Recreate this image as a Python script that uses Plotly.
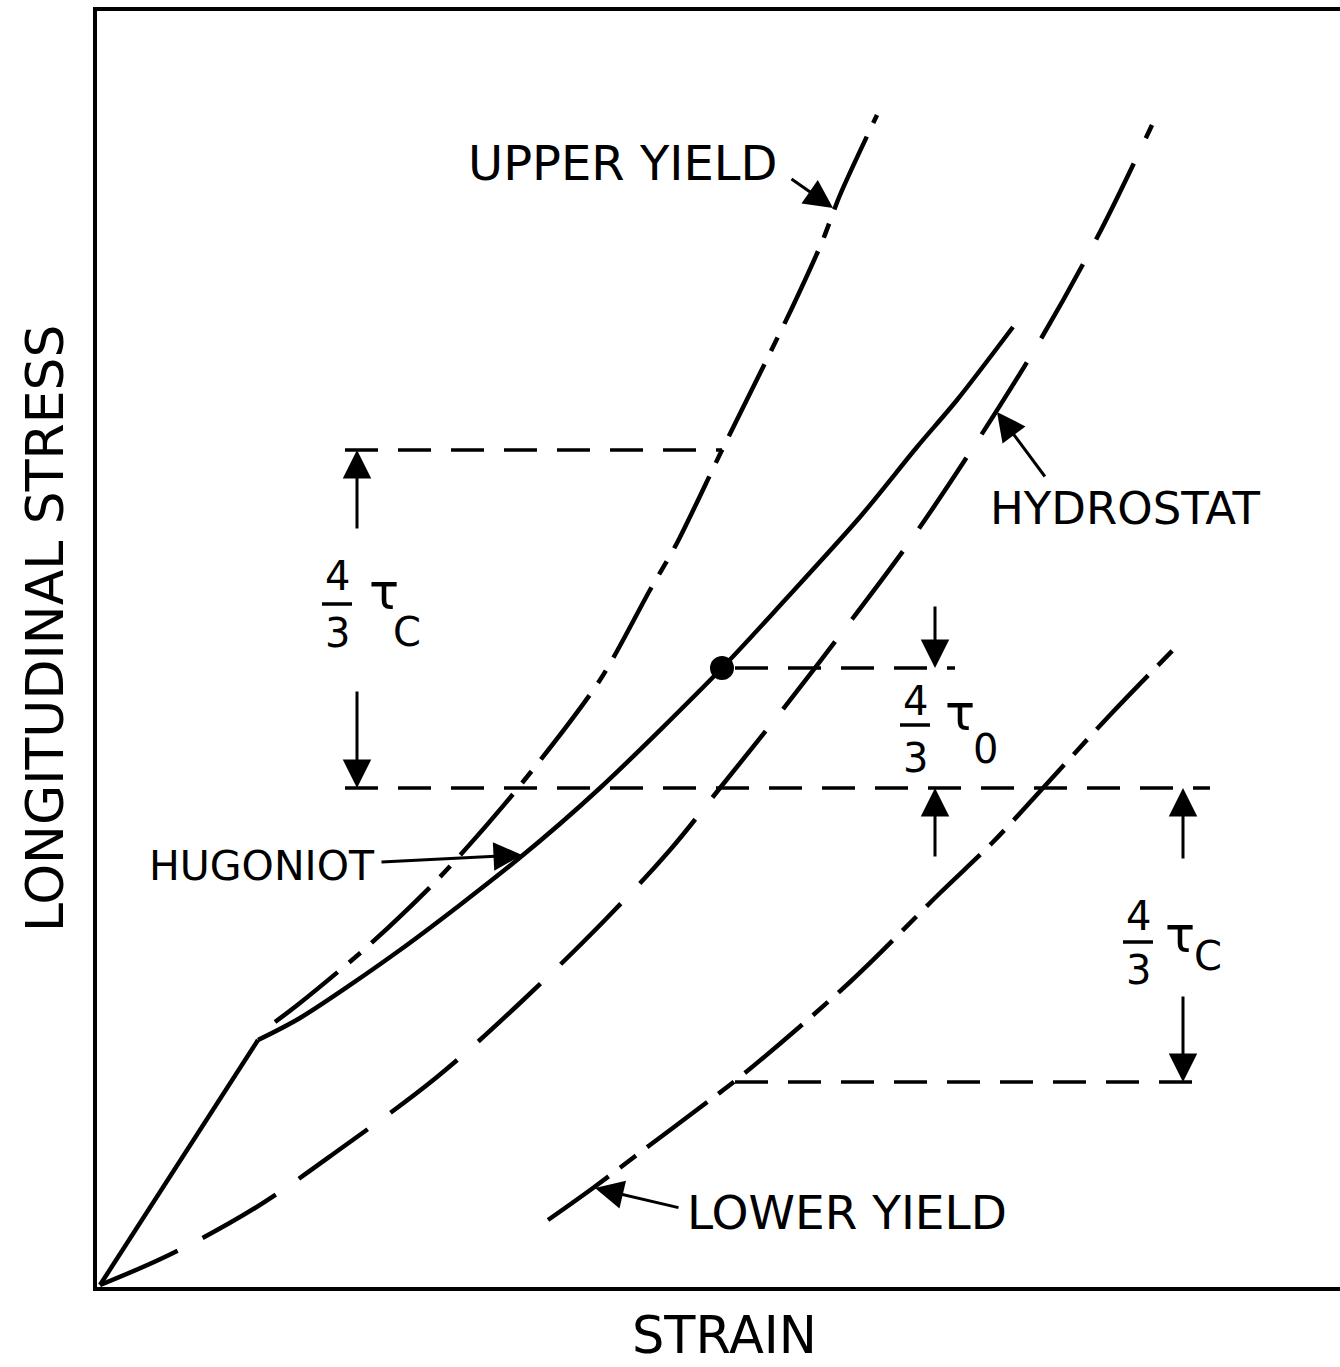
import plotly.graph_objects as go

# ---------------- data (arbitrary schematic units) ----------------
hug_strain = [0, 15.8, 20, 30, 41.7, 50, 62.2, 68.5, 76, 81.7, 85.7, 91.3]
hug_stress = [0, 24.5, 26.7, 33.5, 42.5, 49.7, 61.7, 68.5, 76.8, 83.8, 88.5, 95.8]

upper_strain = [17.5, 20, 26.7, 34, 41.8, 50, 55, 57.7, 62.2, 67, 69.2, 72.2, 74, 77.7]
upper_stress = [26.3, 28.2, 33.8, 40.8, 49.7, 60.5, 69.5, 74.2, 83.5, 93.2, 97.7, 104.3, 109.0, 117]

hydro_strain = [0, 6.9, 15.5, 24.3, 33.7, 42, 50.5, 57, 62, 68, 75.3, 81.3, 87.8, 94.2, 100, 105.2]
hydro_stress = [0, 3, 7.7, 13.8, 20.8, 28.2, 36.5, 43.5, 49.7, 57.2, 66.7, 74.8, 84.5, 94.8, 105.3, 116]

lower_strain = [44.8, 49.3, 55, 61, 64, 75, 84, 89.3, 94.3, 101, 107.3]
lower_stress = [6.5, 9.7, 14, 18.5, 20.8, 30.3, 39.2, 44.3, 49.7, 57, 63.5]

dot_strain, dot_stress = 62.2, 61.7

# horizontal reference levels and their strain extents
level_top, level_top_x = 83.5, [24.5, 62.2]
level_mid, level_mid_x = 49.7, [24.5, 111.0]
level_dot, level_dot_x = 61.7, [63.5, 85.5]
level_low, level_low_x = 20.3, [63.5, 110.7]

curve_labels = ["UPPER YIELD", "HYDROSTAT", "HUGONIOT", "LOWER YIELD"]
x_title = "STRAIN"
y_title = "LONGITUDINAL STRESS"

FONT = "DejaVu Sans"
BLACK = "black"

fig = go.Figure()

# Hugoniot: straight elastic part, then smooth plastic part
fig.add_trace(go.Scatter(x=hug_strain[:2], y=hug_stress[:2], mode="lines",
                         line=dict(color=BLACK, width=4.5), showlegend=False))
fig.add_trace(go.Scatter(x=hug_strain[1:], y=hug_stress[1:], mode="lines",
                         line=dict(color=BLACK, width=4.5, shape="spline", smoothing=0.8),
                         showlegend=False))
fig.add_trace(go.Scatter(x=upper_strain, y=upper_stress, mode="lines",
                         line=dict(color=BLACK, width=4.5, dash="80px,15px,15px,15px",
                                   shape="spline", smoothing=0.8), showlegend=False))
fig.add_trace(go.Scatter(x=hydro_strain, y=hydro_stress, mode="lines",
                         line=dict(color=BLACK, width=4.5, dash="85px,28px",
                                   shape="spline", smoothing=1.0), showlegend=False))
fig.add_trace(go.Scatter(x=lower_strain, y=lower_stress, mode="lines",
                         line=dict(color=BLACK, width=4.5, dash="75px,14px,20px,14px",
                                   shape="spline", smoothing=1.0), showlegend=False))

# horizontal dashed reference lines
for lvl, xs in [(level_top, level_top_x), (level_mid, level_mid_x),
                (level_dot, level_dot_x), (level_low, level_low_x)]:
    fig.add_trace(go.Scatter(x=xs, y=[lvl, lvl], mode="lines",
                             line=dict(color=BLACK, width=3.5, dash="33px,20px"),
                             showlegend=False))

# yield point dot
fig.add_trace(go.Scatter(x=[dot_strain], y=[dot_stress], mode="markers",
                         marker=dict(color=BLACK, size=24), showlegend=False))

ann = []


def arrow(x0, y0, x1, y1, width=3, size=1.9, head=2):
    ann.append(dict(x=x1, y=y1, ax=x0, ay=y0, xref="x", yref="y", axref="x", ayref="y",
                    text="", showarrow=True, arrowhead=head, arrowsize=size,
                    arrowwidth=width, arrowcolor=BLACK, standoff=0, startstandoff=0))


def label(x, y, txt, size=44):
    ann.append(dict(x=x, y=y, xref="x", yref="y", text=txt, showarrow=False,
                    xanchor="center", yanchor="middle",
                    font=dict(family=FONT, size=size, color=BLACK)))


# curve labels with pointers
label(52.2, 112.2, curve_labels[0], 48)
arrow(69.0, 110.7, 73.3, 107.7)
label(102.5, 77.7, curve_labels[1], 45)
arrow(94.6, 80.7, 89.7, 87.3)
label(16.2, 41.9, curve_labels[2], 41)
arrow(28.0, 42.3, 42.2, 43.0)
label(74.7, 7.3, curve_labels[3], 47)
arrow(58.0, 7.7, 49.5, 9.7)

# dimension arrows
arrow(25.7, 75.5, 25.7, level_top)
arrow(25.7, 59.5, 25.7, level_mid)
arrow(83.5, 68.0, 83.5, level_dot)
arrow(83.5, 42.7, 83.5, level_mid)
arrow(108.3, 42.5, 108.3, level_mid)
arrow(108.3, 29.0, 108.3, level_low)

shapes = []


def fraction(xc, y_num, y_bar, y_den, x_tau, y_tau, x_sub, y_sub, sub):
    label(xc, y_num, "4", 40)
    label(xc, y_den, "3", 40)
    shapes.append(dict(type="line", xref="x", yref="y", x0=xc - 1.5, x1=xc + 1.5,
                       y0=y_bar, y1=y_bar, line=dict(color=BLACK, width=3.5)))
    label(x_tau, y_tau, "τ", 50)
    label(x_sub, y_sub, sub, 40)


fraction(23.7, 70.9, 68.1, 65.2, 28.4, 69.3, 30.7, 65.3, "C")
fraction(81.5, 58.4, 56.0, 52.7, 86.0, 57.2, 88.5, 53.6, "0")
fraction(103.8, 36.9, 34.3, 31.5, 108.0, 35.0, 110.8, 32.9, "C")

# axis titles placed as in the reference
ann.append(dict(x=-0.0418, y=0.5165, xref="paper", yref="paper", text=y_title,
                textangle=-90, showarrow=False, xanchor="center", yanchor="middle",
                font=dict(family=FONT, size=52, color=BLACK)))
ann.append(dict(x=0.505, y=-0.0384, xref="paper", yref="paper", text=x_title,
                showarrow=False, xanchor="center", yanchor="middle",
                font=dict(family=FONT, size=51, color=BLACK)))

fig.update_layout(
    width=1340, height=1367,
    margin=dict(l=97, r=0, t=11, b=80, autoexpand=False),
    paper_bgcolor="white", plot_bgcolor="white",
    annotations=ann, shapes=shapes,
    showlegend=False,
    xaxis=dict(range=[-0.3, 124.0], showgrid=False, zeroline=False, showticklabels=False,
               ticks="", showline=True, linecolor=BLACK, linewidth=3.5, mirror=True,
               automargin=False),
    yaxis=dict(range=[-0.2, 127.4], showgrid=False, zeroline=False, showticklabels=False,
               ticks="", showline=True, linecolor=BLACK, linewidth=3.5, mirror=False,
               automargin=False),
)

fig.write_html("out.html",
               config={"displayModeBar": False},
               post_script="document.body.style.margin='0';"
                           "document.body.style.overflow='hidden';")
